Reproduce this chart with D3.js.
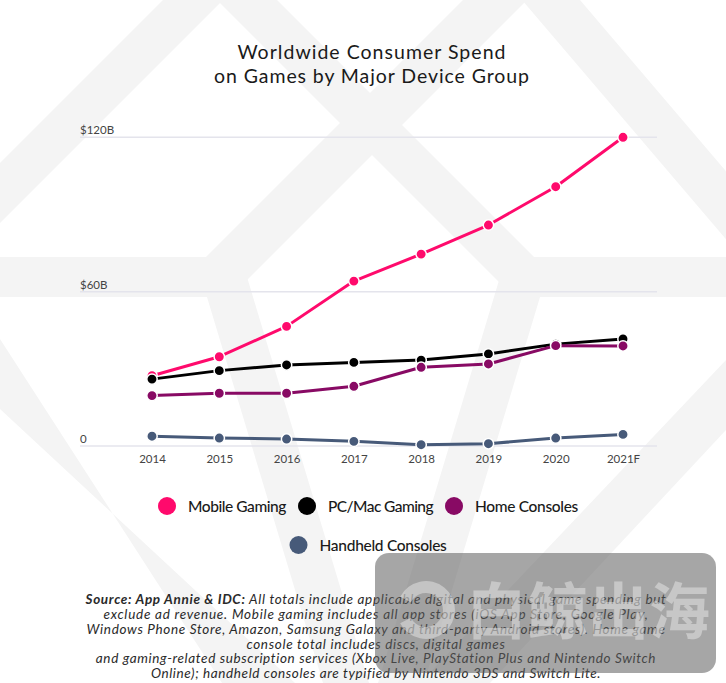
<!DOCTYPE html>
<html>
<head>
<meta charset="utf-8">
<script src="https://cdn.jsdelivr.net/npm/d3@7"></script>
<style>
  html, body { margin: 0; padding: 0; background: #fff; }
  svg { display: block; }
</style>
</head>
<body>
<div id="chart"></div>
<script>
// ---- data ----
const years = ["2014", "2015", "2016", "2017", "2018", "2019", "2020", "2021F"];
const mobileGaming = [27.3, 34.7, 46.5, 64.1, 74.6, 85.9, 100.8, 120];
const pcMacGaming = [26.0, 29.3, 31.5, 32.5, 33.4, 35.8, 39.6, 41.6];
const homeConsoles = [19.6, 20.5, 20.5, 23.2, 30.6, 31.9, 39.0, 38.9];
const handheldConsoles = [3.8, 3.1, 2.7, 1.8, 0.5, 0.9, 3.1, 4.5];
const seriesNames = ["Mobile Gaming", "PC/Mac Gaming", "Home Consoles", "Handheld Consoles"];
const seriesColors = ["#ff0a6c", "#000000", "#880a64", "#475a79"];
const yTickValues = [0, 60, 120];
const yTickLabels = ["0", "$60B", "$120B"];
const titleLines = ["Worldwide Consumer Spend", "on Games by Major Device Group"];
const footnoteLead = "Source: App Annie & IDC:";
const footnoteLines = [
  " All totals include applicable digital and physical game spending but",
  "exclude ad revenue. Mobile gaming includes all app stores (iOS App Store, Google Play,",
  "Windows Phone Store, Amazon, Samsung Galaxy and third-party Android stores). Home game",
  "console total includes discs, digital games",
  "and gaming-related subscription services (Xbox Live, PlayStation Plus and Nintendo Switch",
  "Online); handheld consoles are typified by Nintendo 3DS and Switch Lite."
];
const watermarkText = "白鲸出海";

// ---- setup ----
const W = 726, H = 683;
const svg = d3.select("#chart").append("svg").attr("width", W).attr("height", H);
const FONT = "Lato, 'Open Sans', sans-serif";

// stretch letter-spacing so a text spans the given width
function fit(sel, target) {
  const n = sel.text().length;
  const w = sel.node().getComputedTextLength();
  sel.attr("letter-spacing", ((target - w) / n).toFixed(3));
  return sel;
}

// background decorative pattern
const bg = svg.append("g").attr("fill", "#f4f4f4");
const bgShapes = [
  [[163,0],[223,0],[0,223],[0,163]],
  [[217,0],[277,0],[574,297],[514,297]],
  [[463,0],[527,0],[230,297],[166,297]],
  [[522,0],[580,0],[800,258],[742,258]],
  [[0,257],[245,257],[245,297],[0,297]],
  [[505,257],[726,257],[726,297],[505,297]],
  [[207,297],[247,277],[369,683],[323,683]],
  [[500,277],[540,297],[424,683],[378,683]],
  [[0,339],[0,409],[295,683],[222,683]],
  [[726,360],[726,430],[490,683],[420,683]]
];
bg.selectAll("path").data(bgShapes).join("path")
  .attr("d", d => d3.line()(d) + "Z");

// scales
const x = d3.scalePoint().domain(years).range([152, 623]);
const y = d3.scaleLinear().domain([0, 120]).range([446, 137.3]);

// title
const titleWidths = [269, 316];
svg.append("g").selectAll("text").data(titleLines).join("text")
  .attr("x", 372).attr("y", (d, i) => 59 + i * 24)
  .attr("text-anchor", "middle")
  .attr("font-family", FONT).attr("font-size", 19.5).attr("fill", "#1a1a1a")
  .text(d => d)
  .each(function(d, i) { fit(d3.select(this), titleWidths[i]); });

// gridlines
const grid = svg.append("g");
grid.selectAll("line").data(yTickValues).join("line")
  .attr("x1", 80).attr("x2", 657)
  .attr("y1", d => y(d)).attr("y2", d => y(d))
  .attr("stroke", "#e4e4ec").attr("stroke-width", 1.5);
grid.selectAll("text").data(yTickValues).join("text")
  .attr("x", 80).attr("y", d => y(d) - 3)
  .attr("font-family", FONT).attr("font-size", 11.5).attr("fill", "#444")
  .text((d, i) => yTickLabels[i]);

// x axis
const xAxis = d3.axisBottom(x).tickSize(0).tickPadding(0);
const xg = svg.append("g").attr("transform", "translate(0,455)").call(xAxis);
xg.select(".domain").remove();
xg.selectAll("text").attr("font-family", FONT).attr("font-size", 11.5).attr("fill", "#444").attr("dy", "0.71em");

// series
const seriesData = [mobileGaming, pcMacGaming, homeConsoles, handheldConsoles];
const line = d3.line().x((d, i) => x(years[i])).y(d => y(d));
seriesData.forEach((vals, s) => {
  const g = svg.append("g");
  g.append("path").datum(vals).attr("d", line)
    .attr("fill", "none").attr("stroke", seriesColors[s]).attr("stroke-width", 3)
    .attr("stroke-linejoin", "round");
  g.selectAll("circle").data(vals).join("circle")
    .attr("cx", (d, i) => x(years[i])).attr("cy", d => y(d)).attr("r", 5.2)
    .attr("fill", seriesColors[s]).attr("stroke", "#fff").attr("stroke-width", 1.5);
});

// legend
const legendRows = [[0, 1, 2], [3]];
const legendY = [506, 545];
const legendTextWidths = [98, 105, 103, 127];
legendRows.forEach((row, r) => {
  const g = svg.append("g");
  const items = row.map(idx => {
    const it = g.append("g");
    it.append("circle").attr("r", 9).attr("cx", 9).attr("cy", 0).attr("fill", seriesColors[idx]);
    const t = it.append("text").attr("x", 30).attr("y", 5.5)
      .attr("font-family", FONT).attr("font-size", 15.5).attr("font-weight", 500).attr("fill", "#1a1a1a")
      .text(seriesNames[idx]);
    fit(t, legendTextWidths[idx]);
    return { it, w: 30 + legendTextWidths[idx] };
  });
  const gap = 12;
  const total = d3.sum(items, d => d.w) + gap * (items.length - 1);
  let cx = 368 - total / 2;
  items.forEach(d => { d.it.attr("transform", `translate(${cx},${legendY[r]})`); cx += d.w + gap; });
});

// footnote
const fn = svg.append("g").attr("font-family", FONT).attr("font-size", 13.5)
  .attr("font-style", "italic").attr("fill", "#2a2a2a").attr("text-anchor", "middle");
const fnY = [604, 619, 634, 649, 663, 678];
const fnWidths = [581, 545, 579, 259, 560, 450];
footnoteLines.forEach((l, i) => {
  const t = fn.append("text").attr("x", 376).attr("y", fnY[i]);
  if (i === 0) t.append("tspan").attr("font-weight", 700).text(footnoteLead);
  t.append("tspan").text(l);
  fit(t, fnWidths[i]);
});

// watermark overlay
const wm = svg.append("g");
wm.append("rect").attr("x", 375).attr("y", 553).attr("width", 341).attr("height", 120).attr("rx", 14)
  .attr("fill", "#5c5c5c").attr("opacity", 0.55);
wm.append("path")
  .attr("d", d3.arc()({ innerRadius: 17, outerRadius: 29, startAngle: -Math.PI * 0.35, endAngle: Math.PI * 1.35 }))
  .attr("transform", "translate(426,610)")
  .attr("fill", "#e8e8e8").attr("opacity", 0.5);
wm.append("text").attr("x", 466).attr("y", 634)
  .attr("font-family", "'Noto Sans CJK SC'").attr("font-weight", 700).attr("font-size", 61)
  .attr("fill", "#e8e8e8").attr("opacity", 0.5)
  .text(watermarkText);
</script>
</body>
</html>
